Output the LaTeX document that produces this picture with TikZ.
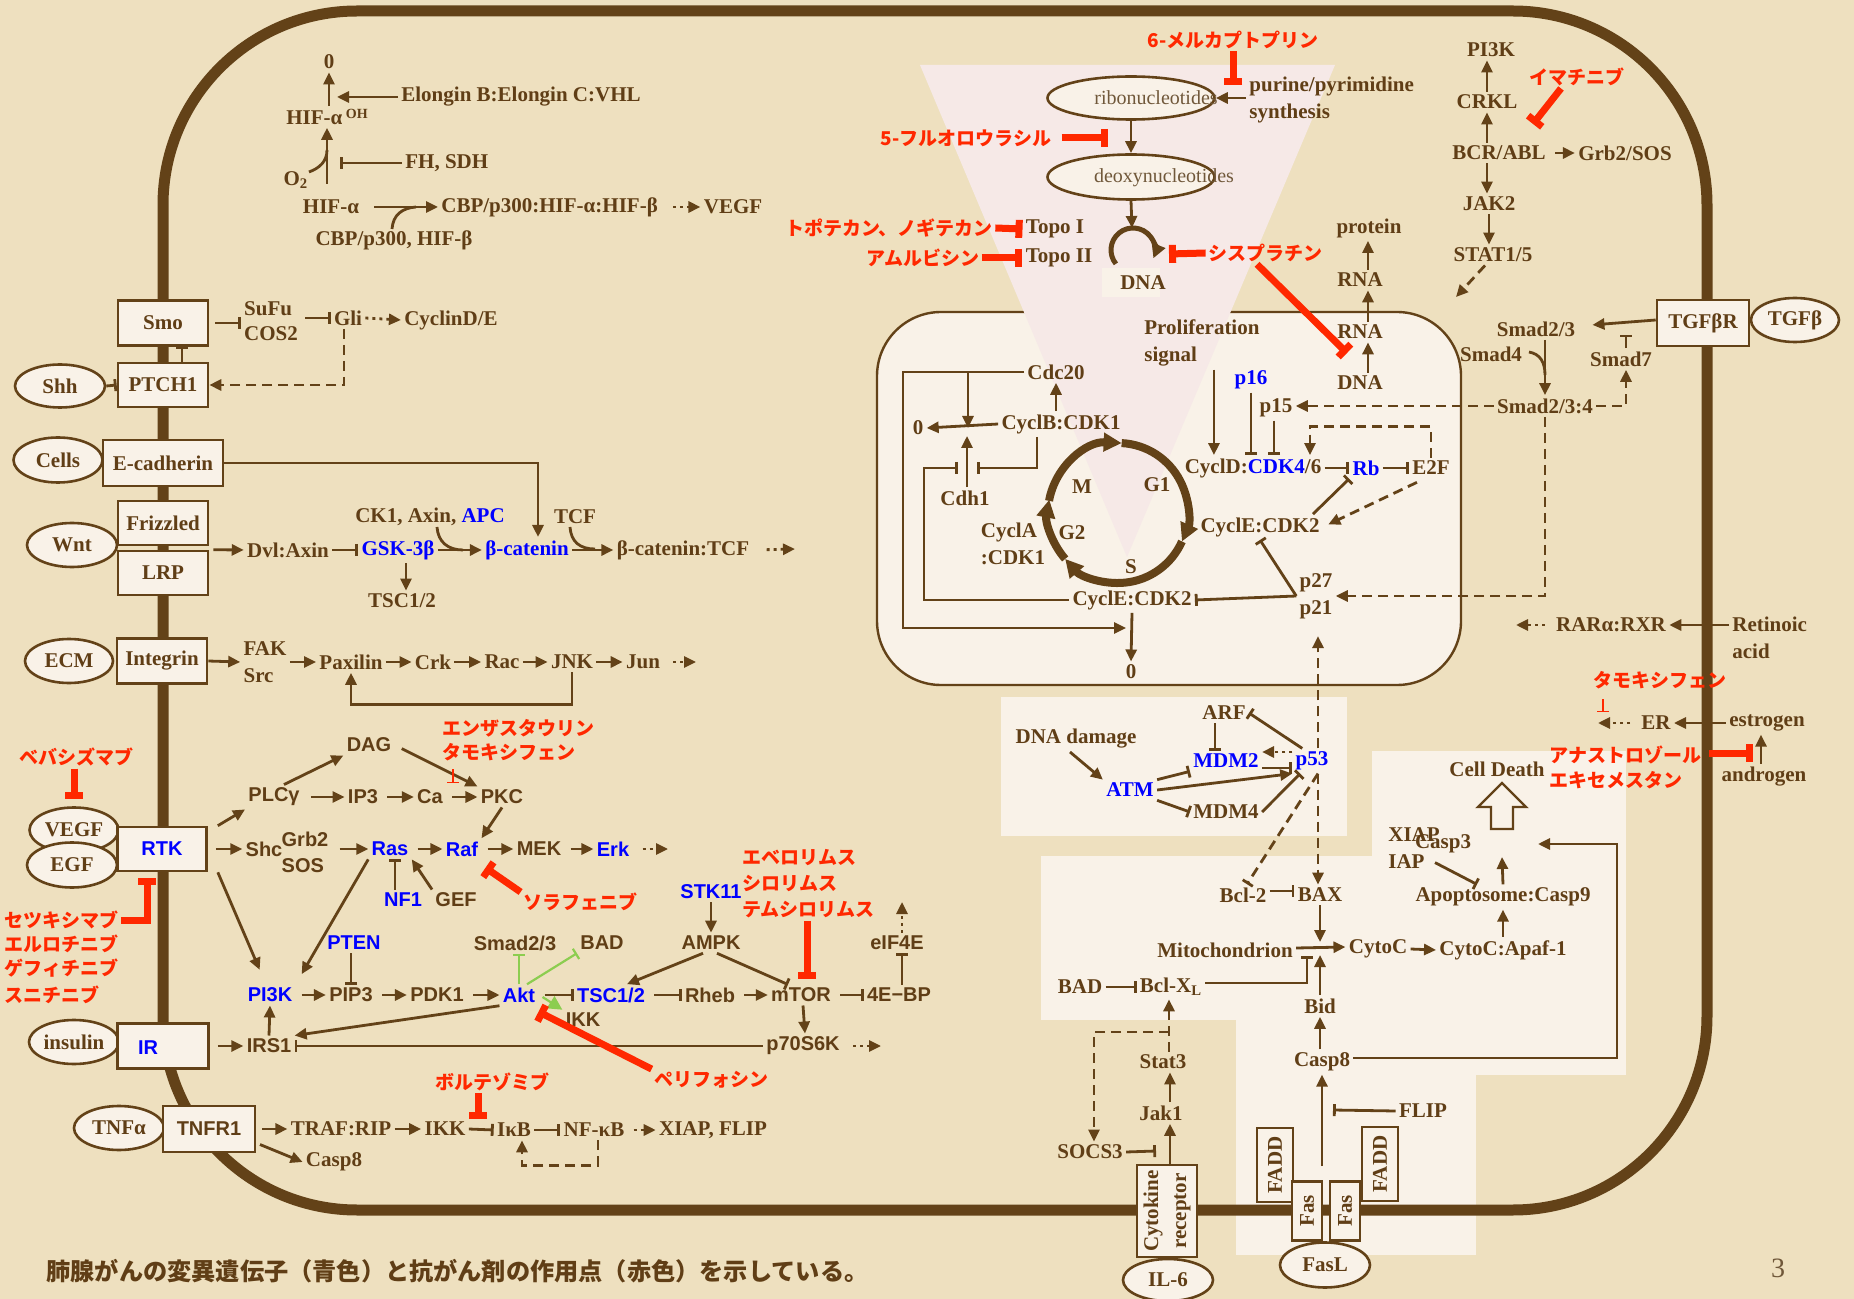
\documentclass[tikz,border=0pt]{standalone}
\usepackage{fontspec}
\setmainfont{Liberation Serif}
\setsansfont{Liberation Sans}
\newfontfamily\jp{Noto Sans CJK JP}
\usetikzlibrary{arrows.meta,shapes.geometric}
\definecolor{bgc}{RGB}{238,224,191}
\definecolor{pale}{RGB}{249,242,232}
\definecolor{pinkt}{RGB}{246,233,231}
\definecolor{lb}{RGB}{99,66,24}
\definecolor{tb}{RGB}{96,62,22}
\definecolor{rd}{RGB}{255,40,0}
\definecolor{bl}{RGB}{0,0,255}
\definecolor{gr}{RGB}{140,205,80}
\definecolor{nt}{RGB}{112,88,58}
\begin{document}
\begin{tikzpicture}[x=0.5pt,y=-0.5pt,
 txt/.style={font=\fontsize{10.5}{13.5}\selectfont\bfseries,text=tb,inner sep=1.5pt},
 sns/.style={font=\sffamily\fontsize{10}{13}\selectfont\bfseries,text=tb,inner sep=1.5pt},
 bluet/.style={text=bl},
 drug/.style={font=\jp\bfseries\fontsize{9.5}{12.5}\selectfont,text=rd,inner sep=1pt},
 arw/.style={draw=lb,line width=1.4pt,-{Triangle[length=6pt,width=5.5pt]}},
 inh/.style={draw=lb,line width=1.4pt,-{Bar[width=6pt]}},
 rinh/.style={draw=rd,line width=3.5pt,-{Bar[width=9pt]}},
 tred/.style={draw=rd,line width=0.8pt,-{Bar[width=6pt]}},
 dasharw/.style={arw,dash pattern=on 5pt off 3pt},
 dashinh/.style={inh,dash pattern=on 5pt off 3pt},
 dotarw/.style={arw,dash pattern=on 1.5pt off 2pt},
 ginh/.style={draw=gr,line width=1.1pt,-{Bar[width=6pt]}},
 garw/.style={draw=gr,line width=1.1pt,-{Triangle[length=7pt,width=7pt]}},
 curl/.style={draw=lb,line width=1.4pt},
 rbox/.style={draw=lb,line width=1.3pt,fill=pale,inner sep=0pt,font=\fontsize{10.5}{13.5}\selectfont\bfseries,text=tb},
 lig/.style={ellipse,draw=lb,line width=1.3pt,fill=pale,inner sep=0pt,font=\fontsize{10.5}{13.5}\selectfont\bfseries,text=tb},
 cyc/.style={draw=lb,line width=4pt},
]
% background and zones
\fill[bgc] (0,0) rectangle (1854,1299);
\useasboundingbox (0,0) rectangle (1854,1299);
\fill[pale] (1001,697) rectangle (1347,836);
\fill[pale] (1041,856) rectangle (1626,1020);
\fill[pale] (1372,751) rectangle (1626,856);
\fill[pale] (1236,1020) rectangle (1626,1075);
\fill[pale] (1236,1075) rectangle (1476,1255);
% membrane
\draw[lb,line width=5.5pt,rounded corners=97pt] (163,11) rectangle (1707,1210);
% nucleus
\draw[lb,line width=1.2pt,fill=pale,rounded corners=32pt] (877,312) rectangle (1461,685);
\fill[pinkt] (920,65) -- (1335,65) -- (1127,557) -- cycle;
\fill[pale] (1102,268) rectangle (1160,297);

% ---------------- HIF ----------------
\node[txt] (z0) at (329,62) {0};
\node[txt] (hifoh) at (327,117) {HIF-α\,\raisebox{.55ex}{\fontsize{7}{7}\selectfont OH}};
\node[txt,anchor=west] (vhl) at (398,97) {Elongin B:Elongin C:VHL};
\coordinate (c1) at (337,97);
\draw[arw] (hifoh.north -| z0) -- (z0.south);
\draw[arw] (vhl.west) -- (c1);
\node[txt] (o2) at (296,180) {O\textsubscript{2}};
\coordinate (o2j) at (327,184);
\draw[arw] (o2j) -- (o2j |- hifoh.south);
\draw[curl] (309,172) .. controls (320,168) and (327,161) .. (327,150);
\node[txt,anchor=west] (fh) at (402,163) {FH, SDH};
\coordinate (o2bar) at (340,163);
\draw[inh] (fh.west) -- (o2bar);
\node[txt] (hifa) at (331,207) {HIF-α};
\node[txt,anchor=west] (cbphif) at (438,207) {CBP/p300:HIF-α:HIF-β};
\draw[arw,shorten <=6pt] (hifa.east) -- (cbphif.west);
\node[txt] (cbp) at (394,240) {CBP/p300, HIF-β};
\draw[curl] (392,229) .. controls (393,215) and (402,208) .. (416,207);
\node[txt] (vegfo) at (733,207) {VEGF};
\draw[dotarw,shorten <=6pt] (cbphif.east) -- (vegfo.west);

% ---------------- Hedgehog ----------------
\node[rbox,minimum width=45pt,minimum height=22.5pt] (smo) at (163,323) {Smo};
\node[rbox,minimum width=45pt,minimum height=22pt] (ptch) at (163,385) {PTCH1};
\node[lig,minimum width=45pt,minimum height=21.5pt] (shh) at (60,386) {Shh};
\draw[inh] (shh.east) -- (ptch.west);
\draw[inh,line width=1pt] ([xshift=9.5pt]ptch.north) -- ([xshift=9.5pt]smo.south);
\node[txt,align=left,font=\fontsize{10.5}{12.5}\selectfont\bfseries] (sufu) at (271,321) {SuFu\\COS2};
\draw[inh] ([xshift=3pt]smo.east) -- (smo.east -| sufu.west);
\node[txt] (gli) at (348,318) {Gli};
\draw[inh] ([xshift=2pt]sufu.east |- gli) -- (gli.west);
\node[txt] (cycde) at (451,320) {CyclinD/E};
\draw[dotarw] (gli.east) -- (cycde.west);
\draw[dasharw] ([xshift=-2pt]gli.south) |- (ptch.east);

% ---------------- E-cadherin / Wnt ----------------
\node[lig,minimum width=44.5pt,minimum height=22.5pt] (cells) at (58,460) {Cells};
\node[rbox,minimum width=60pt,minimum height=23pt] (ecad) at (163,463) {E-cadherin};
\node[rbox,minimum width=45pt,minimum height=22pt] (frz) at (163,523) {Frizzled};
\node[rbox,minimum width=45pt,minimum height=22pt] (lrp) at (163,573) {LRP};
\node[lig,minimum width=45pt,minimum height=22pt] (wnt) at (72,545) {Wnt};
\node[txt] (dvl) at (288,550) {Dvl:Axin};
\draw[arw,shorten <=2pt] (lrp.north east) -- (dvl.west);
\node[txt,bluet] (gsk) at (398,550) {GSK-3β};
\draw[inh] (dvl.east) -- (gsk.west);
\node[txt] (tsc12a) at (402,601) {TSC1/2};
\draw[arw] ([xshift=4pt]gsk.south) -- ([xshift=2pt]tsc12a.north);
\node[txt] (ck1) at (430,517) {CK1, Axin, \textcolor{bl}{APC}};
\node[txt,bluet] (bcat) at (527,550) {β-catenin};
\draw[arw] (gsk.east) -- (bcat.west);
\draw[curl] (437,527) .. controls (438,542) and (448,550) .. (463,550);
\draw[arw] (ecad.east) -| ([xshift=5.5pt]bcat.north);
\node[txt] (tcf) at (575,517) {TCF};
\node[txt] (bcattcf) at (683,550) {β-catenin:TCF};
\draw[arw] (bcat.east) -- (bcattcf.west);
\draw[curl] (570,527) .. controls (571,542) and (580,549) .. (595,549);
\coordinate (bcend) at (795,549);
\draw[dotarw,shorten <=7pt] (bcattcf.east) -- (bcend);

% ---------------- Integrin ----------------
\node[lig,minimum width=44pt,minimum height=22pt] (ecm) at (69,661) {ECM};
\node[rbox,minimum width=45pt,minimum height=22.5pt] (itg) at (162,661) {Integrin};
\node[txt,align=left] (fak) at (265,662) {FAK\\Src};
\draw[arw] (itg.east) -- (fak.west);
\node[txt] (pax) at (351,662) {Paxilin};
\draw[arw] (fak.east) -- (pax.west);
\node[txt] (crk) at (433,662) {Crk};
\draw[arw] (pax.east) -- (crk.west);
\node[txt] (rac) at (502,662) {Rac};
\draw[arw] (crk.east) -- (rac.west);
\node[txt] (jnk) at (572,662) {JNK};
\draw[arw] (rac.east) -- (jnk.west);
\node[txt] (jun) at (643,662) {Jun};
\draw[arw] (jnk.east) -- (jun.west);
\coordinate (junend) at (696,662);
\draw[dotarw,shorten <=5pt] (jun.east) -- (junend);
\draw[arw] (jnk.south) -- ++(0,32) -| (pax.south);

% ---------------- RTK ----------------
\node[lig,minimum width=44.5pt,minimum height=22.5pt] (vegf) at (74,830) {VEGF};
\node[lig,minimum width=45pt,minimum height=22.5pt] (egf) at (72,865) {EGF};
\node[rbox,minimum width=44.5pt,minimum height=22pt,font=\sffamily\fontsize{10}{12}\selectfont\bfseries,text=bl] (rtk) at (162,849) {RTK};
\node[drug] (beva) at (76,757) {ベバシズマブ};
\draw[rinh,shorten >=3.5pt] ([xshift=-1pt]beva.south) -- ([xshift=-1pt]beva.south |- vegf.north);
\node[drug,anchor=west] (cetu) at (2,920) {セツキシマブ};
\node[drug,anchor=west] (erlo) at (2,944) {エルロチニブ};
\node[drug,anchor=west] (gefi) at (2,968) {ゲフィチニブ};
\node[drug,anchor=west] (suni) at (2,995) {スニチニブ};
\draw[rinh,shorten >=3pt] (cetu.east) -| ([xshift=-7.5pt]rtk.south);

\node[sns] (plc) at (274,797) {PLCγ};
\draw[arw] ([xshift=5pt]rtk.north east) -- (plc.south west);
\node[sns] (dag) at (369,745) {DAG};
\draw[arw] ([xshift=5pt]plc.north) -- (dag.south west);
\node[sns] (ip3) at (363,797) {IP3};
\draw[arw,shorten <=4pt] (plc.east) -- (ip3.west);
\node[sns] (ca) at (430,797) {Ca};
\draw[arw,shorten <=3pt] (ip3.east) -- (ca.west);
\node[sns] (pkc) at (502,797) {PKC};
\draw[arw,shorten <=3pt] (ca.east) -- (pkc.west);
\draw[arw,shorten <=4pt] (dag.east) -- (pkc.north west);
\node[drug,anchor=west] (enza) at (440,728) {エンザスタウリン};
\node[drug,anchor=west] (tamo1) at (440,752) {タモキシフェン};
\draw[tred] ([xshift=6.5pt,yshift=-3pt]tamo1.south west) -- ++(0,14);

\node[sns] (shc) at (264,849) {Shc};
\draw[arw,shorten <=4pt] (rtk.east) -- (shc.west);
\node[sns,align=left] (grb) at (305,852) {Grb2\\SOS};
\node[sns,bluet] (ras) at (390,849) {Ras};
\draw[arw,shorten <=4pt] (grb.east |- ras) -- (ras.west);
\node[sns,bluet] (raf) at (462,849) {Raf};
\draw[arw,shorten <=3pt] (ras.east) -- (raf.west);
\node[sns] (mek) at (539,849) {MEK};
\draw[arw,shorten <=3pt] (raf.east) -- (mek.west);
\node[sns,bluet] (erk) at (613,849) {Erk};
\draw[arw,shorten <=3pt] (mek.east) -- (erk.west);
\coordinate (erkend) at (668,849);
\draw[dotarw,shorten <=5pt] (erk.east) -- (erkend);
\draw[arw] (pkc.south) -- (raf.north east);
\node[sns,bluet] (nf1) at (403,900) {NF1};
\draw[inh] ([xshift=-4pt]nf1.north) -- ([xshift=-4pt]nf1.north |- ras.south);
\node[sns] (gef) at (456,900) {GEF};
\draw[arw] (gef.north west) -- (ras.south east);
\node[drug] (sora) at (580,902) {ソラフェニブ};
\draw[rinh] ([yshift=5pt]sora.west) -- ([xshift=2pt,yshift=-4pt]raf.south east);

% ---------------- PI3K / Akt / mTOR ----------------
\node[sns,bluet] (pi3k) at (270,995) {PI3K};
\draw[arw,shorten >=8pt] ([xshift=5pt]rtk.south east) -- ([xshift=-2pt]pi3k.north);
\draw[arw,shorten >=6pt] (ras.south west) -- (pi3k.north east);
\node[sns] (pip3) at (351,995) {PIP3};
\draw[arw,shorten <=3pt] (pi3k.east) -- (pip3.west);
\node[sns,bluet] (pten) at (354,943) {PTEN};
\draw[inh] (pten.south -| pip3.north) -- (pip3.north);
\node[sns] (pdk1) at (437,995) {PDK1};
\draw[arw,shorten <=3pt] (pip3.east) -- (pdk1.west);
\node[sns,bluet] (akt) at (519,995) {Akt};
\draw[arw,shorten <=3pt] (pdk1.east) -- (akt.west);
\node[sns,bluet] (tsc) at (611,995) {TSC1/2};
\draw[inh,shorten <=3pt] (akt.east) -- (tsc.west);
\node[sns] (ikk1) at (583,1020) {IKK};
\draw[garw] ([xshift=2pt,yshift=-1pt]akt.east) -- (ikk1.north west);
\node[sns] (smad23a) at (515,943) {Smad2/3};
\draw[ginh] (akt.north) -- (akt.north |- smad23a.south);
\node[sns] (bad1) at (602,943) {BAD};
\draw[ginh] ([xshift=4pt]akt.north) -- (bad1.south west);
\node[sns] (rheb) at (710,995) {Rheb};
\draw[inh,shorten <=3pt] (tsc.east) -- (rheb.west);
\node[sns] (mtor) at (801,995) {mTOR};
\draw[arw,shorten <=3pt] (rheb.east) -- (mtor.west);
\node[sns,bluet] (stk) at (711,892) {STK11};
\node[sns] (ampk) at (711,943) {AMPK};
\draw[arw] (stk.south) -- (ampk.north);
\draw[arw] ([xshift=-4pt]ampk.south) -- ([xshift=8pt]tsc.north);
\draw[inh] ([xshift=3pt]ampk.south) -- ([xshift=-6.5pt]mtor.north);
\node[sns] (ebp) at (899,995) {4E−BP};
\draw[inh,shorten <=3pt] (mtor.east) -- (ebp.west);
\node[sns] (eif) at (897,943) {eIF4E};
\draw[inh] ([xshift=1.5pt]ebp.north) -- ([xshift=1.5pt]ebp.north |- eif.south);
\coordinate (eifup) at (902,902);
\draw[dotarw] ([xshift=2.5pt]eif.north) -- (eifup);
\node[sns] (p70) at (803,1046) {p70S6K};
\draw[arw] ([xshift=1pt]mtor.south) -- ([xshift=1pt]p70.north);
\coordinate (p70end) at (881,1046);
\draw[dotarw,shorten <=5pt] (p70.east) -- (p70end);
\node[sns] (irs1) at (269,1046) {IRS1};
\draw[inh] (p70.west) -- (irs1.east);
\draw[arw] (akt.south west) -- (irs1.north east);
\draw[arw] (irs1.north) -- (pi3k.south);
\node[drug,anchor=west] (ever) at (740,858) {エベロリムス};
\node[drug,anchor=west] (siro) at (740,883) {シロリムス};
\node[drug,anchor=west] (temsi) at (740,910) {テムシロリムス};
\draw[rinh,shorten >=3pt] ([xshift=3pt]temsi.south -| mtor.north) -- ([xshift=3pt]mtor.north);
\node[drug] (peri) at (711,1080) {ペリフォシン};
\draw[rinh] (peri.north west) -- ([yshift=-3pt]akt.south east);

% ---------------- IR / TNF ----------------
\node[lig,minimum width=45pt,minimum height=22pt] (ins) at (74,1042) {insulin};
\node[rbox,minimum width=45.5pt,minimum height=22.5pt] (ir) at (163,1046) {};
\node[sns,bluet] (irl) at (148,1048) {IR};
\draw[arw,shorten <=4pt] (ir.east) -- (irs1.west);
\node[lig,minimum width=45pt,minimum height=22pt] (tnfa) at (119,1128) {TNFα};
\node[rbox,minimum width=46pt,minimum height=23pt,font=\sffamily\fontsize{10}{12}\selectfont\bfseries] (tnfr) at (209,1129) {TNFR1};
\node[txt] (traf) at (341,1129) {TRAF:RIP};
\draw[arw,shorten <=3pt] (tnfr.east) -- (traf.west);
\node[txt] (ikk2) at (445,1129) {IKK};
\draw[arw] (traf.east) -- (ikk2.west);
\node[txt] (casp8a) at (334,1162) {Casp8};
\draw[arw,shorten <=2pt] ([yshift=-7pt]tnfr.east) -- (casp8a.west);
\node[txt] (ikb) at (514,1130) {IκB};
\draw[inh] (ikk2.east) -- (ikb.west);
\node[drug] (bort) at (492,1082) {ボルテゾミブ};
\draw[rinh] ([xshift=-7pt]bort.south) -- ++(0,26);
\node[txt] (nfkb) at (594,1130) {NF-κB};
\draw[inh] (ikb.east) -- (nfkb.west);
\node[txt] (xiap1) at (713,1130) {XIAP, FLIP};
\draw[dotarw,shorten <=3pt] (nfkb.east) -- (xiap1.west);
\draw[dasharw] ([xshift=2pt]nfkb.south) -- ++(0,25) -| ([xshift=4pt]ikb.south);

% ---------------- nucleotide / DNA ----------------
\node[lig,minimum width=83.5pt,minimum height=21.5pt] (ribo) at (1131,98) {};
\node[font=\fontsize{10}{12}\selectfont,text=nt,inner sep=0pt] (ribot) at (1156,98) {ribonucleotides};
\node[lig,minimum width=83.5pt,minimum height=22.5pt] (deoxy) at (1131,177) {};
\node[font=\fontsize{10}{12}\selectfont,text=nt,inner sep=0pt] (deoxyt) at (1164,178) {deoxynucleotides};
\draw[arw] (ribo.south) -- (deoxy.north);
\coordinate (looptop) at (1132,228);
\draw[arw] (deoxy.south) -- (looptop);
\draw[draw=lb,line width=2.5pt,-{Triangle[length=7pt,width=7pt]}] ([shift={(1133,250)}]141:22) arc[start angle=141,end angle=382,radius=22];
\node[txt] (dna1) at (1143,283) {DNA};
\node[txt,align=left,anchor=west] (purine) at (1246,100) {purine/pyrimidine\\synthesis};
\draw[arw] (purine.west |- ribo.east) -- (ribo.east);
\node[drug] (mp6) at (1233,40) {6-メルカプトプリン};
\draw[rinh] (mp6.south) -- ++(0,34);
\node[drug] (fu5) at (966,138) {5-フルオロウラシル};
\draw[rinh] ([xshift=4pt]fu5.east) -- ++(46,0);
\node[drug] (topo) at (889,228) {トポテカン、ノギテカン};
\node[txt] (topo1) at (1055,229) {Topo I};
\draw[rinh] (topo.east) -- (topo1.west);
\node[drug] (amr) at (923,258) {アムルビシン};
\node[txt] (topo2) at (1059,258) {Topo II};
\draw[rinh] (amr.east) -- (topo2.west);
\node[drug] (cisp) at (1265,253) {シスプラチン};
\coordinate (loopR) at (1169,254);
\draw[rinh] (cisp.west) -- (loopR);
\coordinate (cisp2) at (1347,353);
\draw[rinh] ([xshift=-4pt]cisp.south) -- (cisp2);
\node[txt] (prot) at (1369,228) {protein};
\node[txt] (rna1) at (1360,280) {RNA};
\node[txt] (rna2) at (1360,332) {RNA};
\node[txt] (dna2) at (1360,383) {DNA};
\draw[arw] ([xshift=4pt]rna1.north) -- ([xshift=4pt]rna1.north |- prot.south);
\draw[arw] ([xshift=4pt]rna2.north) -- ([xshift=4pt]rna1.south);
\draw[arw] ([xshift=4pt]dna2.north) -- ([xshift=4pt]rna2.south);

% ---------------- cell cycle ----------------
\node[txt,align=left,anchor=west] (prolif) at (1141,343) {Proliferation\\signal};
\node[txt] (cycd) at (1253,468) {CyclD:\textcolor{bl}{CDK4}/6};
\draw[arw] ([xshift=6pt]prolif.south) -- ([xshift=6pt]prolif.south |- cycd.north);
\node[txt,bluet] (p16) at (1251,380) {p16};
\draw[inh] (p16.south) -- (p16.south |- cycd.north);
\node[txt] (p15) at (1276,408) {p15};
\draw[inh] ([xshift=-1pt]p15.south) -- ([xshift=-1pt]p15.south |- cycd.north);
\node[txt,bluet] (rb) at (1366,468) {Rb};
\draw[inh] (cycd.east) -- (rb.west);
\node[txt] (e2f) at (1431,468) {E2F};
\draw[inh] (rb.east) -- (e2f.west);
\node[txt] (cyce1) at (1260,527) {CyclE:CDK2};
\draw[inh] ([xshift=26.5pt]cyce1.north) -- (rb.south west);
\draw[dasharw] (e2f.north) -- ++(0,-31) -| ([xshift=28.5pt]cycd.north);
\draw[dasharw,shorten >=3pt] ([xshift=4pt,yshift=-2pt]e2f.south west) -- (cyce1.east);
\node[txt,align=left] (p2721) at (1316,596) {p27\\p21};
\draw[inh] (p2721.west) -- (cyce1.south);
\node[txt] (cyce2) at (1132,600) {CyclE:CDK2};
\draw[inh] (p2721.west) -- (cyce2.east);
\node[txt] (zero2) at (1131,672) {0};
\draw[arw] (cyce2.south) -- (zero2.north);
\node[txt] (cdc20) at (1056,372) {Cdc20};
\node[txt] (cycb) at (1061,424) {CyclB:CDK1};
\draw[arw] ([xshift=-2.5pt]cycb.north) -- (cdc20.south);
\node[txt] (zero1) at (918,428) {0};
\draw[arw] (cycb.west) -- (zero1.east);
\coordinate (fr1) at (903,372);
\coordinate (fr2) at (903,628);
\coordinate (cz) at (1126,628);
\draw[arw] (cdc20.west) -- (fr1) -- (fr2) -- (cz);
\coordinate (cb1) at (968,372);
\draw[arw] (cb1) -- (cb1 |- zero1);
\node[txt] (cdh1) at (965,498) {Cdh1};
\draw[arw,shorten >=4pt] ([xshift=1pt]cdh1.north) -- ([xshift=1pt]cdh1.north |- zero1);
\coordinate (fi1) at (924,600);
\coordinate (fi2) at (924,468);
\coordinate (fi3) at (958,468);
\draw[inh] (cyce2.west) -- (fi1) -- (fi2) -- (fi3);
\coordinate (fi4) at (977,468);
\draw[inh] ([xshift=-12pt]cycb.south) |- (fi4);
% cycle circle
\draw[cyc,-{Triangle[length=9pt,width=9pt]}] ([shift={(1118,513)}]190:70) arc[start angle=190,end angle=273,radius=70];
\draw[cyc,-{Triangle[length=9pt,width=9pt]}] ([shift={(1118,513)}]273:70) arc[start angle=273,end angle=384,radius=70];
\draw[cyc,-{Triangle[length=9pt,width=9pt]}] ([shift={(1118,513)}]24:70) arc[start angle=24,end angle=139,radius=70];
\draw[cyc,-{Triangle[length=9pt,width=9pt]}] ([shift={(1118,513)}]139:70) arc[start angle=139,end angle=191,radius=70];
\node[txt] (phm) at (1082,487) {M};
\node[txt] (phg1) at (1157,485) {G1};
\node[txt] (phg2) at (1072,533) {G2};
\node[txt] (phs) at (1131,567) {S};
\node[txt,align=left] (cycla) at (1013,544) {CyclA\\:CDK1};

% ---------------- BCR/ABL, TGF ----------------
\node[txt] (pi3k2) at (1491,50) {PI3K};
\node[txt] (crkl) at (1487,102) {CRKL};
\draw[arw] (crkl.north) -- (crkl.north |- pi3k2.south);
\node[txt] (bcr) at (1499,153) {BCR/ABL};
\draw[arw] (bcr.north -| crkl) -- (crkl.south);
\node[txt] (grbsos) at (1625,153) {Grb2/SOS};
\draw[arw,shorten <=3pt] (bcr.east) -- (grbsos.west);
\node[txt] (jak2) at (1489,204) {JAK2};
\draw[arw] (bcr.south -| crkl) -- (jak2.north -| crkl);
\node[txt] (stat15) at (1493,255) {STAT1/5};
\draw[arw] (jak2.south) -- (jak2.south |- stat15.north);
\coordinate (statend) at (1456,297);
\draw[dasharw] ([xshift=-4pt]stat15.south) -- (statend);
\node[drug] (imat) at (1577,77) {イマチニブ};
\coordinate (imatT) at (1533,124);
\draw[rinh] ([xshift=-8pt]imat.south) -- (imatT);
\node[rbox,minimum width=46pt,minimum height=23pt] (tgfr) at (1703,323) {TGFβR};
\node[lig,minimum width=44pt,minimum height=22pt] (tgfb) at (1795,320) {TGFβ};
\node[txt] (smad23b) at (1536,329) {Smad2/3};
\draw[arw,shorten >=7pt] ([yshift=1.5pt]tgfr.west) -- ([yshift=1.5pt]smad23b.east);
\node[txt] (smad4) at (1491,354) {Smad4};
\node[txt] (smad7) at (1621,359) {Smad7};
\draw[inh,line width=1pt] ([xshift=2.5pt]smad7.north) -- ++(0,-13);
\node[txt] (smad234) at (1545,406) {Smad2/3:4};
\draw[arw] (smad23b.south -| smad234) -- (smad234.north);
\draw[curl] (1529,352) .. controls (1540,354) and (1545,362) .. (1545,375);
\draw[dasharw] (smad234.east) -| ([xshift=2.5pt]smad7.south);
\draw[dasharw] (smad234.west) -- (smad234.west -| p15.east);
\draw[dasharw] (smad234.south) |- (p2721.east);

% ---------------- RAR / ER ----------------
\node[txt,align=left,anchor=west] (retin) at (1729,638) {Retinoic\\acid};
\node[txt] (rar) at (1611,625) {RARα:RXR};
\draw[arw] (retin.west |- rar) -- (rar.east);
\coordinate (rarend) at (1516,625);
\draw[dotarw,shorten <=4pt] (rar.west) -- (rarend);
\node[drug] (tamo2) at (1660,680) {タモキシフェン};
\draw[tred] ([xshift=6pt,yshift=-4pt]tamo2.south west) -- ++(0,13);
\node[txt] (er) at (1656,723) {ER};
\node[txt] (estr) at (1767,723) {estrogen};
\draw[arw] (estr.west) -- (er.east);
\coordinate (erend) at (1598,723);
\draw[dotarw,shorten <=4pt] (er.west) -- (erend);
\node[txt] (andr) at (1764,777) {androgen};
\draw[arw] ([xshift=-1.5pt]andr.north) -- ([xshift=-1.5pt]andr.north |- estr.south);
\node[drug,anchor=west] (anas) at (1547,755) {アナストロゾール};
\node[drug,anchor=west] (exem) at (1547,780) {エキセメスタン};
\draw[rinh] ([xshift=3pt,yshift=1pt]anas.east) -- ++(44,0);

% ---------------- p53 ----------------
\node[txt] (dnad) at (1076,739) {DNA damage};
\node[txt,bluet] (atm) at (1130,790) {ATM};
\draw[arw] ([xshift=-3pt]dnad.south) -- (atm.north west);
\node[txt] (arf) at (1224,713) {ARF};
\node[txt,bluet] (mdm2) at (1226,761) {MDM2};
\node[txt] (mdm4) at (1226,812) {MDM4};
\node[txt,bluet] (p53) at (1312,761) {p53};
\draw[inh] ([xshift=-4.5pt]arf.south) -- ([xshift=-4.5pt]arf.south |- mdm2.north);
\draw[inh] ([xshift=5pt]p53.north west) -- (arf.east);
\draw[dotarw] ([yshift=4.5pt]p53.west) -- ([yshift=4.5pt]mdm2.east);
\draw[inh] ([yshift=-3.5pt]mdm2.east) -- ([yshift=-3.5pt]p53.west);
\draw[inh] (atm.north east) -- (mdm2.south west);
\draw[arw] (atm.east) -- (p53.south west);
\draw[inh] (atm.south east) -- (mdm4.west);
\draw[inh] (mdm4.east) -- ([xshift=4pt]p53.south west);
\draw[dasharw,shorten >=7pt] ([xshift=3pt]p53.north) -- ([xshift=3pt]p53.north |- p2721.south);

% ---------------- apoptosis ----------------
\node[txt] (bcl2) at (1243,895) {Bcl-2};
\node[txt] (bax) at (1320,895) {BAX};
\draw[inh] ([yshift=2pt]bcl2.east) -- ([yshift=2pt]bax.west);
\draw[dasharw] ([xshift=3pt]p53.south) -- ([xshift=3pt]p53.south |- bax.north);
\draw[dashinh] ([xshift=3pt]p53.south) -- ([xshift=2pt]bcl2.north);
\node[txt] (mito) at (1225,950) {Mitochondrion};
\node[txt] (cytoc) at (1378,949) {CytoC};
\draw[arw] ([yshift=1pt]mito.east) -- ([yshift=1pt]cytoc.west);
\coordinate (mc) at (1320,942);
\draw[arw] (bax.south) -- (mc);
\node[txt] (bid) at (1320,1006) {Bid};
\coordinate (mc2) at (1320,955);
\draw[arw] (bid.north) -- (mc2);
\node[txt] (casp8b) at (1322,1062) {Casp8};
\draw[arw] ([xshift=-1pt]casp8b.north) -- ([xshift=-1pt]casp8b.north |- bid.south);
\node[txt] (bad2) at (1080,987) {BAD};
\node[txt] (bclxl) at (1171,987) {Bcl-X\textsubscript{L}};
\draw[inh] (bad2.east) -- (bclxl.west);
\coordinate (bx1) at (1307,983);
\coordinate (bx2) at (1307,956);
\draw[inh] (bclxl.east |- bx1) -- (bx1) -- (bx2);
\node[txt] (apaf) at (1503,950) {CytoC:Apaf-1};
\draw[arw] (cytoc.east) -- (apaf.west);
\node[txt] (apop) at (1503,897) {Apoptosome:Casp9};
\draw[arw] (apaf.north) -- (apop.south);
\node[txt,align=left,anchor=west] (xiap2) at (1385,848) {XIAP\\IAP};
\node[txt] (casp3) at (1443,844) {Casp3};
\coordinate (c3tip) at (1502,857);
\draw[arw] (apop.north) -- (c3tip);
\draw[inh] ([xshift=-4pt,yshift=-3pt]casp3.south) -- ([xshift=-13pt]apop.north);
\node[txt] (celld) at (1497,769) {Cell Death};
\draw[lb,line width=1.2pt,fill=pale] (1491,829) -- (1491,807) -- (1478,807) -- (1502,783) -- (1526,807) -- (1513,807) -- (1513,829) -- cycle;
\coordinate (k1) at (1617,1058);
\coordinate (k2) at (1617,844);
\coordinate (c3e) at (1538,844);
\draw[arw] ([yshift=2pt]casp8b.east) -- (k1) -- (k2) -- (c3e);
\node[txt] (flip) at (1423,1111) {FLIP};
\coordinate (flipT) at (1333,1110);
\draw[inh] (flip.west) -- (flipT);
\node[rbox,rotate=90,minimum width=37pt,minimum height=18pt] (fadd1) at (1275,1165) {FADD};
\node[rbox,rotate=90,minimum width=37pt,minimum height=18pt] (fadd2) at (1380,1164) {FADD};
\node[rbox,rotate=90,minimum width=29.5pt,minimum height=15pt] (fas1) at (1307,1211) {Fas};
\node[rbox,rotate=90,minimum width=29.5pt,minimum height=15pt] (fas2) at (1345,1211) {Fas};
\node[lig,minimum width=45pt,minimum height=22.5pt] (fasl) at (1325,1265) {FasL};
\coordinate (fasup) at (1322,1166);
\draw[arw] (fasup) -- (casp8b.south);
\node[rbox,rotate=90,minimum width=46pt,minimum height=30pt,align=center,font=\fontsize{10.5}{14}\selectfont\bfseries] (ckr) at (1167,1211) {Cytokine\\receptor};
\node[lig,minimum width=45pt,minimum height=21pt] (il6) at (1168,1280) {IL-6};
\node[txt] (jak1) at (1161,1113) {Jak1};
\coordinate (ckrtop) at (1170,1166);
\draw[arw] (ckrtop) -- ([xshift=4.5pt]jak1.south);
\node[txt] (stat3) at (1163,1062) {Stat3};
\draw[arw] ([xshift=4.5pt]jak1.north) -- ([xshift=3.5pt]stat3.south);
\draw[dasharw] ([xshift=3pt]stat3.north) -- ([xshift=3pt]stat3.north |- bclxl.south);
\node[txt] (socs3) at (1090,1152) {SOCS3};
\coordinate (sj) at (1169,1032);
\draw[dasharw] (sj) -| ([xshift=2pt]socs3.north);
\coordinate (socsT) at (1156,1151);
\draw[inh] (socs3.east) -- (socsT);

% ---------------- caption ----------------
\node[font=\jp\bfseries\fontsize{12.1}{14}\selectfont,text=tb,anchor=west,inner sep=0pt] (cap) at (46,1271) {肺腺がんの変異遺伝子（青色）と抗がん剤の作用点（赤色）を示している。};
\node[font=\fontsize{14}{16}\selectfont,text=nt] (pg) at (1778,1268) {3};
\end{tikzpicture}
\end{document}
